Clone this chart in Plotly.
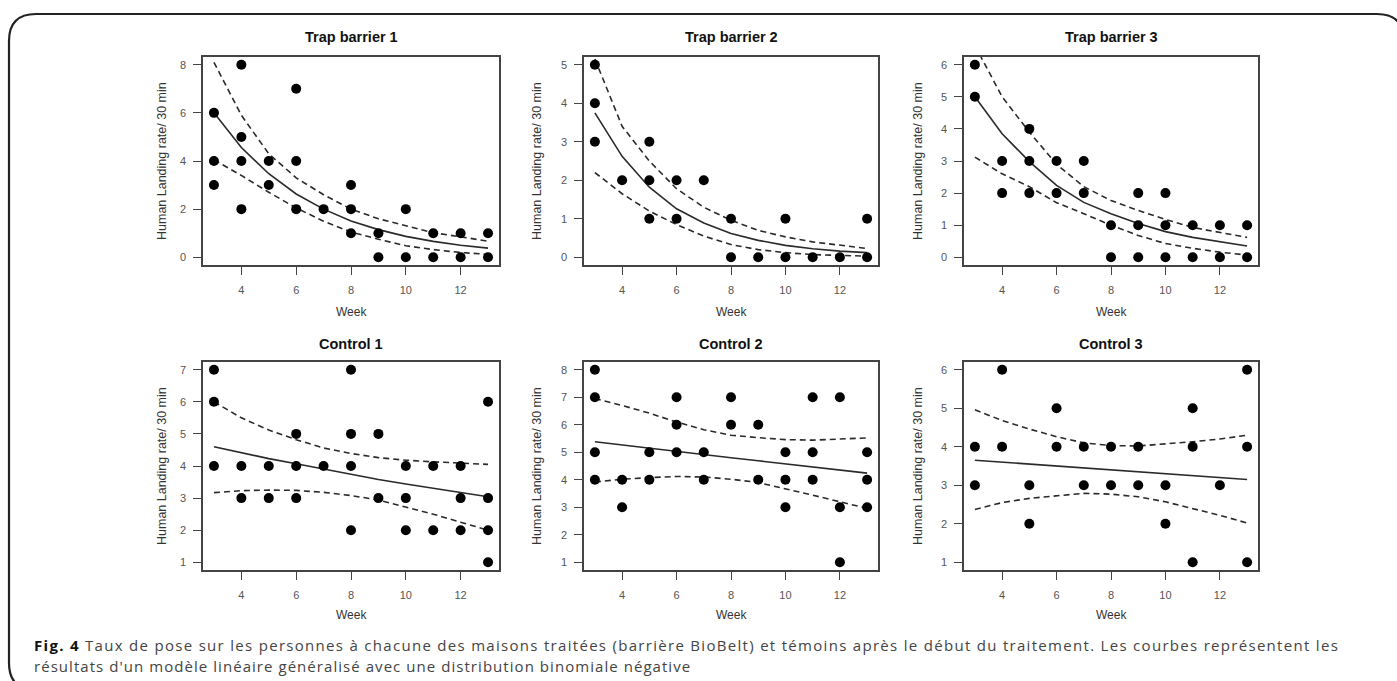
import plotly.graph_objects as go

W, H = 1397, 681

# ---------------- data ----------------
panel_titles = ["Trap barrier 1", "Trap barrier 2", "Trap barrier 3",
                "Control 1", "Control 2", "Control 3"]

weeks_tb1 = [3, 3, 3, 4, 4, 4, 4, 5, 5, 6, 6, 6, 7, 8, 8, 8, 9, 9, 10, 10, 11, 11, 12, 12, 13, 13]
rate_tb1 = [6, 4, 3, 8, 5, 4, 2, 4, 3, 7, 4, 2, 2, 3, 2, 1, 1, 0, 2, 0, 1, 0, 1, 0, 1, 0]

weeks_tb2 = [3, 3, 3, 4, 5, 5, 5, 6, 6, 7, 8, 8, 9, 10, 10, 11, 12, 13, 13]
rate_tb2 = [5, 4, 3, 2, 3, 2, 1, 2, 1, 2, 1, 0, 0, 1, 0, 0, 0, 1, 0]

weeks_tb3 = [3, 3, 4, 4, 5, 5, 5, 6, 6, 7, 7, 8, 8, 9, 9, 9, 10, 10, 10, 11, 11, 12, 12, 13, 13]
rate_tb3 = [6, 5, 3, 2, 4, 3, 2, 3, 2, 3, 2, 1, 0, 2, 1, 0, 2, 1, 0, 1, 0, 1, 0, 1, 0]

weeks_c1 = [3, 3, 3, 4, 4, 5, 5, 6, 6, 6, 7, 8, 8, 8, 8, 9, 9, 10, 10, 10, 11, 11, 12, 12, 12, 13, 13, 13, 13]
rate_c1 = [7, 6, 4, 4, 3, 4, 3, 5, 4, 3, 4, 7, 5, 4, 2, 5, 3, 4, 3, 2, 4, 2, 4, 3, 2, 6, 3, 2, 1]

weeks_c2 = [3, 3, 3, 3, 4, 4, 5, 5, 6, 6, 6, 7, 7, 8, 8, 9, 9, 10, 10, 10, 11, 11, 11, 12, 12, 12, 13, 13, 13]
rate_c2 = [8, 7, 5, 4, 4, 3, 5, 4, 7, 6, 5, 5, 4, 7, 6, 6, 4, 5, 4, 3, 7, 5, 4, 7, 3, 1, 5, 4, 3]

weeks_c3 = [3, 3, 4, 4, 5, 5, 6, 6, 7, 7, 8, 8, 9, 9, 10, 10, 11, 11, 11, 12, 13, 13, 13]
rate_c3 = [4, 3, 6, 4, 3, 2, 5, 4, 4, 3, 4, 3, 4, 3, 3, 2, 5, 4, 1, 3, 6, 4, 1]

fit_weeks = [3, 4, 5, 6, 7, 8, 9, 10, 11, 12, 13]

fit_tb1 = [6.0, 4.56, 3.47, 2.63, 2.0, 1.51, 1.15, 0.87, 0.66, 0.5, 0.38]
upper_tb1 = [8.1, 5.9, 4.3, 3.3, 2.6, 2.0, 1.6, 1.3, 1.02, 0.85, 0.67]
lower_tb1 = [4.05, 3.4, 2.7, 2.05, 1.5, 1.05, 0.75, 0.48, 0.32, 0.2, 0.12]

fit_tb2 = [3.75, 2.62, 1.82, 1.26, 0.89, 0.62, 0.44, 0.31, 0.22, 0.16, 0.12]
upper_tb2 = [5.15, 3.4, 2.5, 1.78, 1.3, 0.96, 0.7, 0.53, 0.4, 0.31, 0.23]
lower_tb2 = [2.2, 1.65, 1.2, 0.85, 0.55, 0.33, 0.2, 0.12, 0.07, 0.05, 0.03]

fit_tb3 = [5.0, 3.85, 2.98, 2.24, 1.71, 1.36, 1.05, 0.8, 0.62, 0.48, 0.35]
upper_tb3 = [6.6, 5.0, 3.9, 2.9, 2.2, 1.77, 1.46, 1.18, 0.93, 0.78, 0.62]
lower_tb3 = [3.12, 2.6, 2.2, 1.7, 1.36, 1.0, 0.68, 0.43, 0.28, 0.16, 0.07]

fit_c1 = [4.6, 4.41, 4.23, 4.07, 3.9, 3.73, 3.58, 3.44, 3.3, 3.17, 3.04]
upper_c1 = [6.0, 5.5, 5.12, 4.82, 4.56, 4.39, 4.26, 4.18, 4.13, 4.08, 4.05]
lower_c1 = [3.17, 3.23, 3.25, 3.24, 3.18, 3.08, 2.94, 2.72, 2.5, 2.25, 2.0]

fit_c2 = [5.38, 5.26, 5.14, 5.02, 4.91, 4.8, 4.69, 4.58, 4.47, 4.35, 4.24]
upper_c2 = [6.95, 6.7, 6.42, 6.1, 5.82, 5.62, 5.53, 5.46, 5.44, 5.47, 5.52]
lower_c2 = [3.92, 4.02, 4.08, 4.12, 4.1, 4.02, 3.9, 3.68, 3.44, 3.2, 2.96]

fit_c3 = [3.65, 3.6, 3.55, 3.5, 3.45, 3.4, 3.35, 3.3, 3.25, 3.2, 3.15]
upper_c3 = [4.96, 4.68, 4.46, 4.26, 4.1, 4.03, 4.02, 4.07, 4.13, 4.2, 4.3]
lower_c3 = [2.37, 2.55, 2.66, 2.73, 2.79, 2.77, 2.7, 2.57, 2.4, 2.22, 2.02]

y_ticks = [[0, 2, 4, 6, 8], [0, 1, 2, 3, 4, 5], [0, 1, 2, 3, 4, 5, 6],
           [1, 2, 3, 4, 5, 6, 7], [1, 2, 3, 4, 5, 6, 7, 8], [1, 2, 3, 4, 5, 6]]
x_ticks = [4, 6, 8, 10, 12]

x_title = "Week"
y_title = "Human Landing rate/ 30 min"
caption_bold = "Fig. 4"
caption_line1 = ("Taux de pose sur les personnes à chacune des maisons traitées (barrière BioBelt) "
                 "et témoins après le début du traitement. Les courbes représentent les")
caption_line2 = "résultats d'un modèle linéaire généralisé avec une distribution binomiale négative"

points = [(weeks_tb1, rate_tb1), (weeks_tb2, rate_tb2), (weeks_tb3, rate_tb3),
          (weeks_c1, rate_c1), (weeks_c2, rate_c2), (weeks_c3, rate_c3)]
curves = [(fit_tb1, upper_tb1, lower_tb1), (fit_tb2, upper_tb2, lower_tb2),
          (fit_tb3, upper_tb3, lower_tb3), (fit_c1, upper_c1, lower_c1),
          (fit_c2, upper_c2, lower_c2), (fit_c3, upper_c3, lower_c3)]

# ---------------- layout geometry (pixels) ----------------
col_px = [(203, 499), (584, 878), (964, 1258)]
row_px = [(57, 265), (362, 570)]
ytitle_x = [162, 537, 918]
title_y = [37, 344]
xtitle_y = [312, 615]

FONT = "Liberation Sans, Arial, sans-serif"
AX = "#444444"


def px(x):
    return x / W


def py(y):
    return 1 - y / H


fig = go.Figure()
layout = dict(
    width=W, height=H, margin=dict(l=0, r=0, t=0, b=0),
    paper_bgcolor="white", plot_bgcolor="white", showlegend=False,
    font=dict(family=FONT, color="#333"),
)
annotations = []

for i in range(6):
    r, c = divmod(i, 3)
    sfx = "" if i == 0 else str(i + 1)
    xa, ya = "x" + sfx, "y" + sfx
    wk, rt = points[i]
    fit, up, lo = curves[i]

    line_style = dict(color="#2a2a2a", width=1.6)
    dash_style = dict(color="#2a2a2a", width=1.6, dash="6px,4px")
    fig.add_trace(go.Scatter(x=fit_weeks, y=up, mode="lines", line=dash_style,
                             xaxis=xa, yaxis=ya, hoverinfo="skip"))
    fig.add_trace(go.Scatter(x=fit_weeks, y=lo, mode="lines", line=dash_style,
                             xaxis=xa, yaxis=ya, hoverinfo="skip"))
    fig.add_trace(go.Scatter(x=fit_weeks, y=fit, mode="lines", line=line_style,
                             xaxis=xa, yaxis=ya, hoverinfo="skip"))
    fig.add_trace(go.Scatter(x=wk, y=rt, mode="markers",
                             marker=dict(color="black", size=10),
                             xaxis=xa, yaxis=ya, cliponaxis=False))

    x0, x1 = col_px[c]
    y0, y1 = row_px[r]
    xmin, xmax = min(wk), max(wk)
    ymin, ymax = min(rt), max(rt)
    xpad = 0.04 * (xmax - xmin)
    ypad = 0.04 * (ymax - ymin)

    common = dict(showline=True, mirror=True, linecolor=AX, linewidth=1.5,
                  showgrid=False, zeroline=False, ticks="outside", ticklen=8,
                  tickcolor=AX, tickwidth=1.2,
                  tickfont=dict(family=FONT, size=11, color="#555"))
    layout["xaxis" + sfx] = dict(common, domain=[px(x0), px(x1)],
                                 range=[xmin - xpad, xmax + xpad],
                                 tickvals=x_ticks, anchor=ya,
                                 ticklabelstandoff=6)
    layout["yaxis" + sfx] = dict(common, domain=[py(y1), py(y0)],
                                 range=[ymin - ypad, ymax + ypad],
                                 tickvals=y_ticks[i], anchor=xa,
                                 ticklabelstandoff=5)

    annotations.append(dict(text="<b>" + panel_titles[i] + "</b>", xref="paper", yref="paper",
                            x=px((x0 + x1) / 2), y=py(title_y[r]), showarrow=False,
                            xanchor="center", yanchor="middle",
                            font=dict(family=FONT, size=14.5, color="#111")))
    annotations.append(dict(text=x_title, xref="paper", yref="paper",
                            x=px((x0 + x1) / 2), y=py(xtitle_y[r]), showarrow=False,
                            xanchor="center", yanchor="middle",
                            font=dict(family=FONT, size=12, color="#333")))
    annotations.append(dict(text=y_title, xref="paper", yref="paper", textangle=-90,
                            x=px(ytitle_x[c]), y=py((y0 + y1) / 2), showarrow=False,
                            xanchor="center", yanchor="middle",
                            font=dict(family=FONT, size=12.5, color="#333")))

CAP_FONT = "Open Sans, Liberation Sans, sans-serif"
annotations.append(dict(
    text=("<span style='letter-spacing:1.3px'><span style='color:#111'><b>" + caption_bold
          + "</b></span> " + caption_line1 + "</span>"),
    xref="paper", yref="paper", x=px(32), y=py(645), xanchor="left", yanchor="middle",
    showarrow=False, font=dict(family=CAP_FONT, size=15, color="#444")))
annotations.append(dict(
    text="<span style='letter-spacing:1.05px'>" + caption_line2 + "</span>",
    xref="paper", yref="paper", x=px(32), y=py(666), xanchor="left", yanchor="middle",
    showarrow=False, font=dict(family=CAP_FONT, size=15, color="#444")))

layout["annotations"] = annotations

# rounded frame around the figure
rad = 27
L, T, R_, B_ = 9, 14, 1404, 690
path = (f"M {px(L)},{py(B_ - rad)} L {px(L)},{py(T + rad)} "
        f"Q {px(L)},{py(T)} {px(L + rad)},{py(T)} "
        f"L {px(R_ - rad)},{py(T)} Q {px(R_)},{py(T)} {px(R_)},{py(T + rad)} "
        f"L {px(R_)},{py(B_ - rad)} Q {px(R_)},{py(B_)} {px(R_ - rad)},{py(B_)} "
        f"L {px(L + rad)},{py(B_)} Q {px(L)},{py(B_)} {px(L)},{py(B_ - rad)} Z")
layout["shapes"] = [dict(type="path", xref="paper", yref="paper", path=path,
                         line=dict(color="#222", width=2.2), layer="above")]

fig.update_layout(**layout)
fig.write_html("out.html", config={"displayModeBar": False},
               post_script="document.body.style.margin='0';document.body.style.overflow='hidden';")
